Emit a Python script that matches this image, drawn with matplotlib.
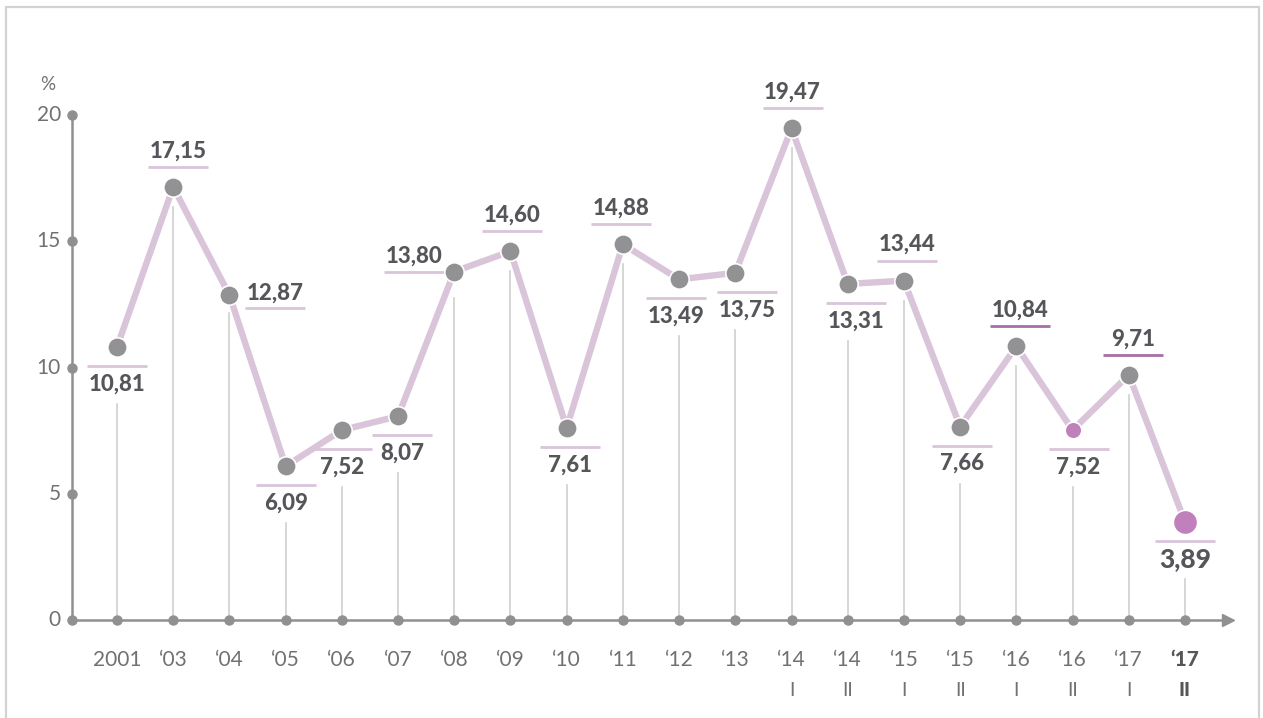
import matplotlib
matplotlib.use('Agg')
import matplotlib.pyplot as plt
from matplotlib.patches import Rectangle

plt.rcParams['font.family'] = ['Lato', 'DejaVu Sans']

# ---- data ----
years = ["2001", "\u201803", "\u201804", "\u201805", "\u201806", "\u201807", "\u201808",
         "\u201809", "\u201810", "\u201811", "\u201812", "\u201813", "\u201814", "\u201814",
         "\u201815", "\u201815", "\u201816", "\u201816", "\u201817", "\u201817"]
halves = ["", "", "", "", "", "", "", "", "", "", "", "", "I", "II", "I", "II", "I", "II", "I", "II"]
values = [10.81, 17.15, 12.87, 6.09, 7.52, 8.07, 13.80, 14.60, 7.61, 14.88,
          13.49, 13.75, 19.47, 13.31, 13.44, 7.66, 10.84, 7.52, 9.71, 3.89]
yticks = [0, 5, 10, 15, 20]

# ---- label layout (pixels) ----
placement = ['below', 'above', 'right', 'below', 'below', 'below', 'left', 'above', 'below', 'above',
             'below', 'below', 'above', 'below', 'above', 'below', 'above', 'below', 'above', 'below']
label_dx = [0, 5, 46, 0, 0, 4, -40, 2, 3, -2, -3, 12, 1, 8, 3, 2, 4, 6, 4, 0]

W, H, DPI = 1263, 718, 100
fig = plt.figure(figsize=(W / DPI, H / DPI), dpi=DPI)
fig.patches.append(Rectangle((6 / W, -0.05), (1259 - 6) / W, (H - 7) / H + 0.05,
                             transform=fig.transFigure, fill=False,
                             edgecolor='#d2d2d2', linewidth=1.6))

ax = fig.add_axes([72 / W, (H - 620) / H, (1225 - 72) / W, (620 - 115) / H])
n = len(values)
x0 = -(117 - 72) / ((1185 - 117) / (n - 1))
x1 = (1225 - 117) / ((1185 - 117) / (n - 1))
ax.set_xlim(x0, x1)
ax.set_ylim(0, 20)
ax.axis('off')

bbox = ax.get_window_extent()
sx = bbox.width / (x1 - x0)   # px per x unit
sy = bbox.height / 20.0       # px per y unit

axis_c = '#909093'
drop_c = '#d0d0d0'
line_c = '#d9c4da'
marker_c = '#929295'
purple = '#bf80bb'
text_c = '#55565a'
tick_c = '#707174'

xs = list(range(n))

# axes lines
ax.plot([x0, x0], [0, 20], color=axis_c, lw=1.8, clip_on=False, zorder=2, solid_capstyle='butt')
ax.plot([x0, x1 - 3 / sx], [0, 0], color=axis_c, lw=1.8, clip_on=False, zorder=2)
ax.plot([x1 + 3 / sx], [0], marker='>', color=axis_c, ms=8, clip_on=False, zorder=2)
ax.plot([x0] * len(yticks), yticks, 'o', color=axis_c, ms=6.5, clip_on=False, zorder=3)
ax.plot(xs, [0] * n, 'o', color=axis_c, ms=6.5, clip_on=False, zorder=3)

# y tick labels
for t in yticks:
    ax.text(x0 - 11 / sx, t, str(t), ha='right', va='center', fontsize=15,
            color=tick_c, fontweight='normal', clip_on=False)
ax.text(x0 - 24 / sx, 20 + 31 / sy, '%', ha='center', va='center', fontsize=13.5,
        color=tick_c, fontweight='normal', clip_on=False)

# x tick labels
for i, (yl, hl) in enumerate(zip(years, halves)):
    last = i == n - 1
    ax.text(i, -40 / sy, yl, ha='center', va='center', fontsize=15,
            color=text_c if last else tick_c, fontweight='black' if last else 'normal',
            clip_on=False)
    if hl:
        ax.text(i, -70 / sy, hl, ha='center', va='center', fontsize=14,
                color=text_c if last else tick_c, fontweight='black' if last else 'normal',
                clip_on=False)

# labels, underlines and drop lines
for i, v in enumerate(values):
    lab = f"{v:.2f}".replace('.', ',')
    p = placement[i]
    big = i == n - 1
    if p == 'above':
        ty, ly = 36, 20
        drop_top = v - 20 / sy
    elif p == 'below':
        ty, ly = -37, -19
        drop_top = v + ty / sy - 20 / sy
    elif p == 'right':
        ty, ly = 2, -13
        drop_top = v - 18 / sy
    else:  # left
        ty, ly = 15, 0
        drop_top = v - 26 / sy
    cx = i + label_dx[i] / sx
    ax.text(cx, v + ty / sy, lab, ha='center', va='center',
            fontsize=19 if big else 16, fontweight='black', color=text_c,
            clip_on=False, zorder=5)
    uc = '#a86ea7' if i in (16, 18) else line_c
    ax.plot([cx - 30 / sx, cx + 30 / sx], [v + ly / sy] * 2, color=uc, lw=2.0,
            solid_capstyle='butt', clip_on=False, zorder=4)
    ax.plot([i, i], [0, drop_top], color=drop_c, lw=1.2, clip_on=False, zorder=1)

# main line
ax.plot(xs, values, color=line_c, lw=4.6, clip_on=False, zorder=3, solid_joinstyle='round')

# markers
for i, v in enumerate(values):
    if i == n - 1:
        c, ms = purple, 17.5
    elif i == n - 3:
        c, ms = purple, 12
    else:
        c, ms = marker_c, 14
    ax.plot([i], [v], 'o', color=c, ms=ms, mec='white', mew=1.2, clip_on=False, zorder=4)

fig.savefig('out.png', dpi=DPI)
